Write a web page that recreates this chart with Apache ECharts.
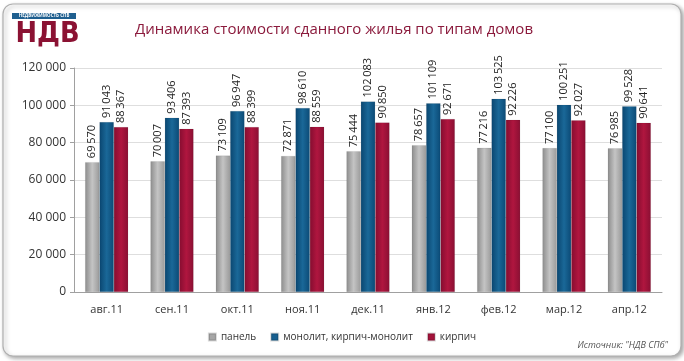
<!DOCTYPE html>
<html><head><meta charset="utf-8">
<script src="https://cdn.jsdelivr.net/npm/echarts@6/dist/echarts.min.js"></script>
<style>html,body{margin:0;padding:0;background:#fff}#c{width:684px;height:361px}</style>
</head><body><div id="c"></div>
<script>
const categories = ['авг.11','сен.11','окт.11','ноя.11','дек.11','янв.12','фев.12','мар.12','апр.12'];
const panel = [69570,70007,73109,72871,75444,78657,77216,77100,76985];
const monolit = [91043,93406,96947,98610,102083,101109,103525,100251,99528];
const kirpich = [88367,87393,88399,88559,90850,92671,92226,92027,90641];
const seriesNames = ['панель','монолит, кирпич-монолит','кирпич'];
const yTicks = [0,20000,40000,60000,80000,100000,120000];

const fmt = v => String(v).replace(/\B(?=(\d{3})+(?!\d))/g, '\u2009');
const fmtY = v => String(v).replace(/\B(?=(\d{3})+(?!\d))/g, ' ');
function grad(a,b,c){return new echarts.graphic.LinearGradient(0,0,1,0,[{offset:0,color:a},{offset:0.5,color:b},{offset:1,color:c}]);}
const colors = [grad('#8c8c8c','#c4c4c4','#9a9a9a'), grad('#0a4670','#1a6898','#0b4a76'), grad('#850d30','#b0163f','#8a0f33')];
const legendColors = ['#a6a6a6','#175f8f','#a3123a'];

const chart = echarts.init(document.getElementById('c'));
const mk = (name, data, i) => ({
  name, type:'bar', data, barGap:'0%', barCategoryGap:'34%',
  itemStyle:{color:colors[i], borderColor:'rgba(0,0,0,0.15)', borderWidth:0.5},
  label:{show:true, position:'top', rotate:90, align:'left', verticalAlign:'middle', distance:4,
    formatter:p=>fmt(p.value), fontFamily:'Open Sans', fontSize:11, color:'#222'}
});
chart.setOption({
  animation:false,
  textStyle:{fontFamily:'Open Sans'},
  graphic:[
    {type:'rect', shape:{x:3,y:4,width:678,height:352,r:10}, style:{fill:'#fff',stroke:'#b0b0b0',lineWidth:1.2, shadowColor:'rgba(0,0,0,0.35)', shadowBlur:4, shadowOffsetX:2, shadowOffsetY:2}, z:-10},
    {type:'rect', shape:{x:12,y:13,width:64,height:6}, style:{fill:'#1f5f8f'}},
    {type:'text', x:44, y:16, style:{text:'НЕДВИЖИМОСТЬ СПБ', fill:'#fff', font:'bold 4.5px "Open Sans"', align:'center', verticalAlign:'middle'}},
    {type:'text', x:44, y:35, style:{text:'НДВ', fill:'#8b1233', font:'bold 28px "DejaVu Sans"', align:'center', verticalAlign:'middle'}, scaleX:0.92, originX:44, originY:35},
    {type:'text', x:334, y:30, style:{text:'Динамика стоимости сданного жилья по типам домов', fill:'#8b1a3c', font:'15px "Open Sans"', align:'center', verticalAlign:'middle'}},
    {type:'text', x:668, y:345, style:{text:'Источник: "НДВ СПб"', fill:'#555', font:'italic 9px "Open Sans"', align:'right', verticalAlign:'middle'}}
  ],
  legend:{data:seriesNames.map((n,i)=>({name:n, itemStyle:{color:legendColors[i]}})), left:'center', top:327, itemWidth:7, itemHeight:7, itemGap:14,
    textStyle:{fontSize:10, color:'#333'}, icon:'rect'},
  grid:{left:74, right:22, top:68, bottom:69},
  xAxis:{type:'category', data:categories, axisLine:{lineStyle:{color:'#a0a0a0'}}, axisTick:{show:false},
    axisLabel:{fontSize:11, color:'#333', margin:12}},
  yAxis:{type:'value', min:yTicks[0], max:yTicks[yTicks.length-1], interval:20000,
    axisLine:{show:true, lineStyle:{color:'#a0a0a0'}}, axisTick:{show:true, length:4, lineStyle:{color:'#a0a0a0'}},
    splitLine:{lineStyle:{color:'#dedede'}},
    axisLabel:{fontSize:12, color:'#333', margin:8, formatter:v=>fmtY(v)}},
  series:[mk(seriesNames[0],panel,0), mk(seriesNames[1],monolit,1), mk(seriesNames[2],kirpich,2)]
});
</script></body></html>
